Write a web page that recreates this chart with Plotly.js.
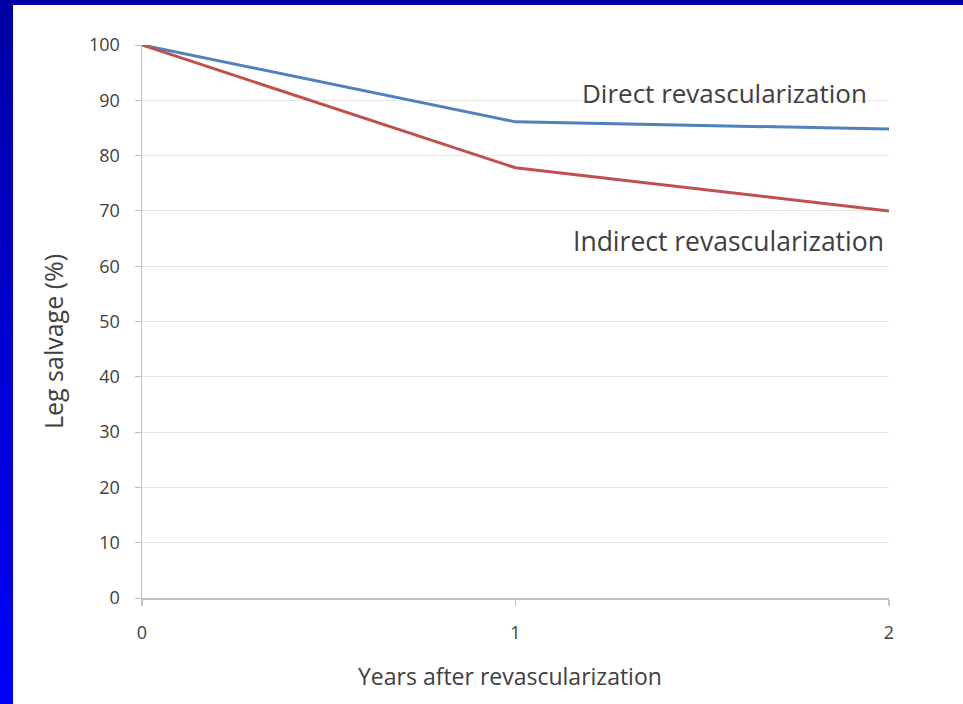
<!DOCTYPE html>
<html>
<head>
<meta charset="utf-8">
<script src="https://cdn.plot.ly/plotly-3.0.1.min.js"></script>
<style>
  html, body { margin: 0; padding: 0; }
  #frame { position: relative; width: 963px; height: 704px; background: #0000AA; overflow: hidden; }
  #leftband { position: absolute; left: 0; top: 0; width: 13px; height: 704px; background: linear-gradient(to bottom, #0000A6, #0000FF); }
  #chart { position: absolute; left: 13px; top: 5px; width: 950px; height: 699px; background: #fff; }
</style>
</head>
<body>
<div id="frame"><div id="leftband"></div><div id="chart"></div></div>
<script>
const years = [0, 1, 2];
const directSalvage = [100, 86.1, 84.8];
const indirectSalvage = [100, 77.8, 70.0];
const seriesNames = ["Direct revascularization", "Indirect revascularization"];
const yTicks = [0, 10, 20, 30, 40, 50, 60, 70, 80, 90, 100];
const xTicks = [0, 1, 2];
const xTitle = "Years after revascularization";
const yTitle = "Leg salvage (%)";

const textColor = "#404040";
const fontFam = "'Open Sans', 'Noto Sans', sans-serif";

const traces = [
  { x: years, y: directSalvage, mode: "lines", name: seriesNames[0],
    line: { color: "#4F81BD", width: 3 } },
  { x: years, y: indirectSalvage, mode: "lines", name: seriesNames[1],
    line: { color: "#C0504D", width: 3 } }
];

const layout = {
  width: 950, height: 699,
  margin: { l: 129, r: 74, t: 40, b: 106 },
  paper_bgcolor: "#ffffff",
  plot_bgcolor: "#ffffff",
  showlegend: false,
  font: { family: fontFam, color: textColor },
  xaxis: {
    range: [0, 2], tickvals: xTicks, ticktext: xTicks.map(String),
    showgrid: false, zeroline: false,
    showline: true, linecolor: "#bfbfbf", linewidth: 1.5,
    ticks: "outside", ticklen: 6, tickcolor: "#bfbfbf", tickwidth: 1.5,
    ticklabelstandoff: 12,
    tickfont: { size: 18, color: "#404040", family: fontFam }
  },
  yaxis: {
    range: [0, 100], tickvals: yTicks, ticktext: yTicks.map(String),
    showgrid: true, gridcolor: "#e6e6e6", gridwidth: 1,
    zeroline: false,
    showline: true, linecolor: "#bfbfbf", linewidth: 1.5,
    ticks: "outside", ticklen: 6, tickcolor: "#bfbfbf", tickwidth: 1,
    ticklabelstandoff: 11,
    tickfont: { size: 18, color: "#404040", family: fontFam }
  },
  annotations: [
    { x: 1.56, y: 91.3, xref: "x", yref: "y", text: seriesNames[0], showarrow: false,
      xanchor: "center", yanchor: "middle", font: { size: 26, color: textColor, family: fontFam } },
    { x: 1.57, y: 64.6, xref: "x", yref: "y", text: seriesNames[1], showarrow: false,
      xanchor: "center", yanchor: "middle", font: { size: 26.5, color: textColor, family: fontFam } },
    { x: 0.4926, y: -0.141, xref: "paper", yref: "paper", text: xTitle, showarrow: false,
      xanchor: "center", yanchor: "middle", font: { size: 23, color: textColor, family: fontFam } },
    { x: -0.119, y: 0.463, xref: "paper", yref: "paper", text: yTitle, showarrow: false, textangle: -90,
      xanchor: "center", yanchor: "middle", font: { size: 25, color: textColor, family: fontFam } }
  ]
};

Plotly.newPlot("chart", traces, layout, { displayModeBar: false, staticPlot: true });
</script>
</body>
</html>
